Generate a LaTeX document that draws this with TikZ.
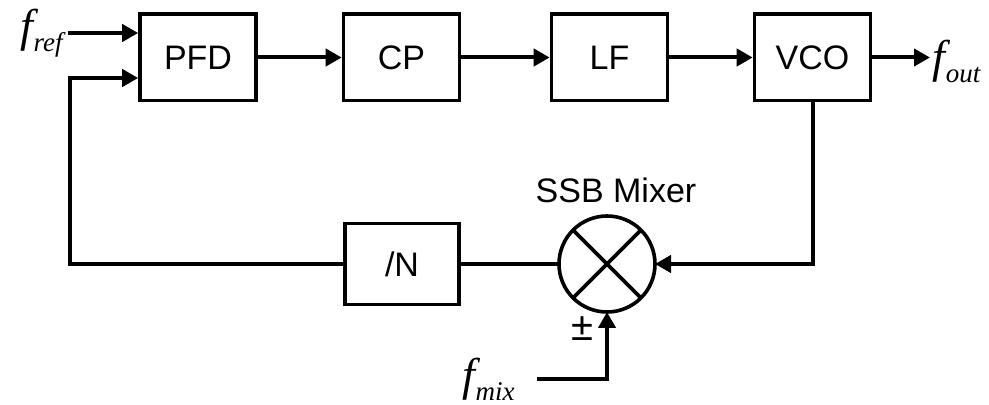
\documentclass[tikz,border=0pt]{standalone}
\usepackage{fontspec}
\setmainfont{Liberation Sans}
\newfontfamily\timesfont{Liberation Serif}
\usetikzlibrary{arrows.meta,calc}
\newcommand{\freq}[1]{{\timesfont\itshape\fontsize{23}{24}\selectfont f\kern0.3pt\raisebox{-5pt}{\fontsize{13.5}{14}\selectfont #1}}}

\begin{document}
\begin{tikzpicture}[x=0.5pt, y=-0.5pt,
        block/.style={draw, line width=1.8pt, minimum width=58pt, minimum height=43.2pt, font=\fontsize{17}{20}\selectfont},
        wire/.style={line width=2pt},
        arr/.style={wire, -{Triangle[length=8pt, width=8.5pt]}}]
        \useasboundingbox (0,0) rectangle (989,405);

        % Forward path
        \node[block] (pfd) at (198,57.5) {PFD};
        \node[block] (cp) at (401.5,57.5) {CP};
        \node[block] (lf) at (609.5,57.5) {LF};
        \node[block] (vco) at (812.5,57.5) {VCO};

        % Feedback path
        \node[block, minimum width=57pt, minimum height=40.5pt] (div) at (402,264) {/N};
        \node[draw, circle, line width=1.8pt, minimum size=48pt, inner sep=0pt, outer sep=0pt] (mix) at (607,264) {};
        \draw[line width=1.8pt] (mix.45) -- (mix.225) (mix.135) -- (mix.-45);
        \node[font=\fontsize{17}{20}\selectfont] (mixlbl) at (616,190) {SSB Mixer};
        \node[font=\fontsize{20}{22}\selectfont, inner sep=0pt] (sign) at (582,329) {±};

        % Frequencies
        \node[anchor=east, inner sep=1pt, inner xsep=2.5pt] (fref) at (68,33) {\freq{ref}};
        \node[anchor=west, inner sep=1pt] (fout) at (930,61) {\freq{out}};
        \node[anchor=east, inner sep=1pt, inner xsep=11pt] (fmix) at (537,379) {\freq{mix}};
        \coordinate (fbtop) at (70,78);

        % Connections
        \draw[arr] (fref.east) -- (fref.east -| pfd.west);
        \draw[arr] (pfd.east) -- (cp.west);
        \draw[arr] (cp.east) -- (lf.west);
        \draw[arr] (lf.east) -- (vco.west);
        \draw[arr] (vco.east) -- (vco.east -| fout.west);
        \draw[arr] (vco.south) |- (mix.east);
        \draw[wire] (mix.west) -- (div.east);
        \draw[arr] (div.west) -| (fbtop) -- (fbtop -| pfd.west);
        \draw[arr] (fmix.east) -| (mix.south);

\end{tikzpicture}
\end{document}
